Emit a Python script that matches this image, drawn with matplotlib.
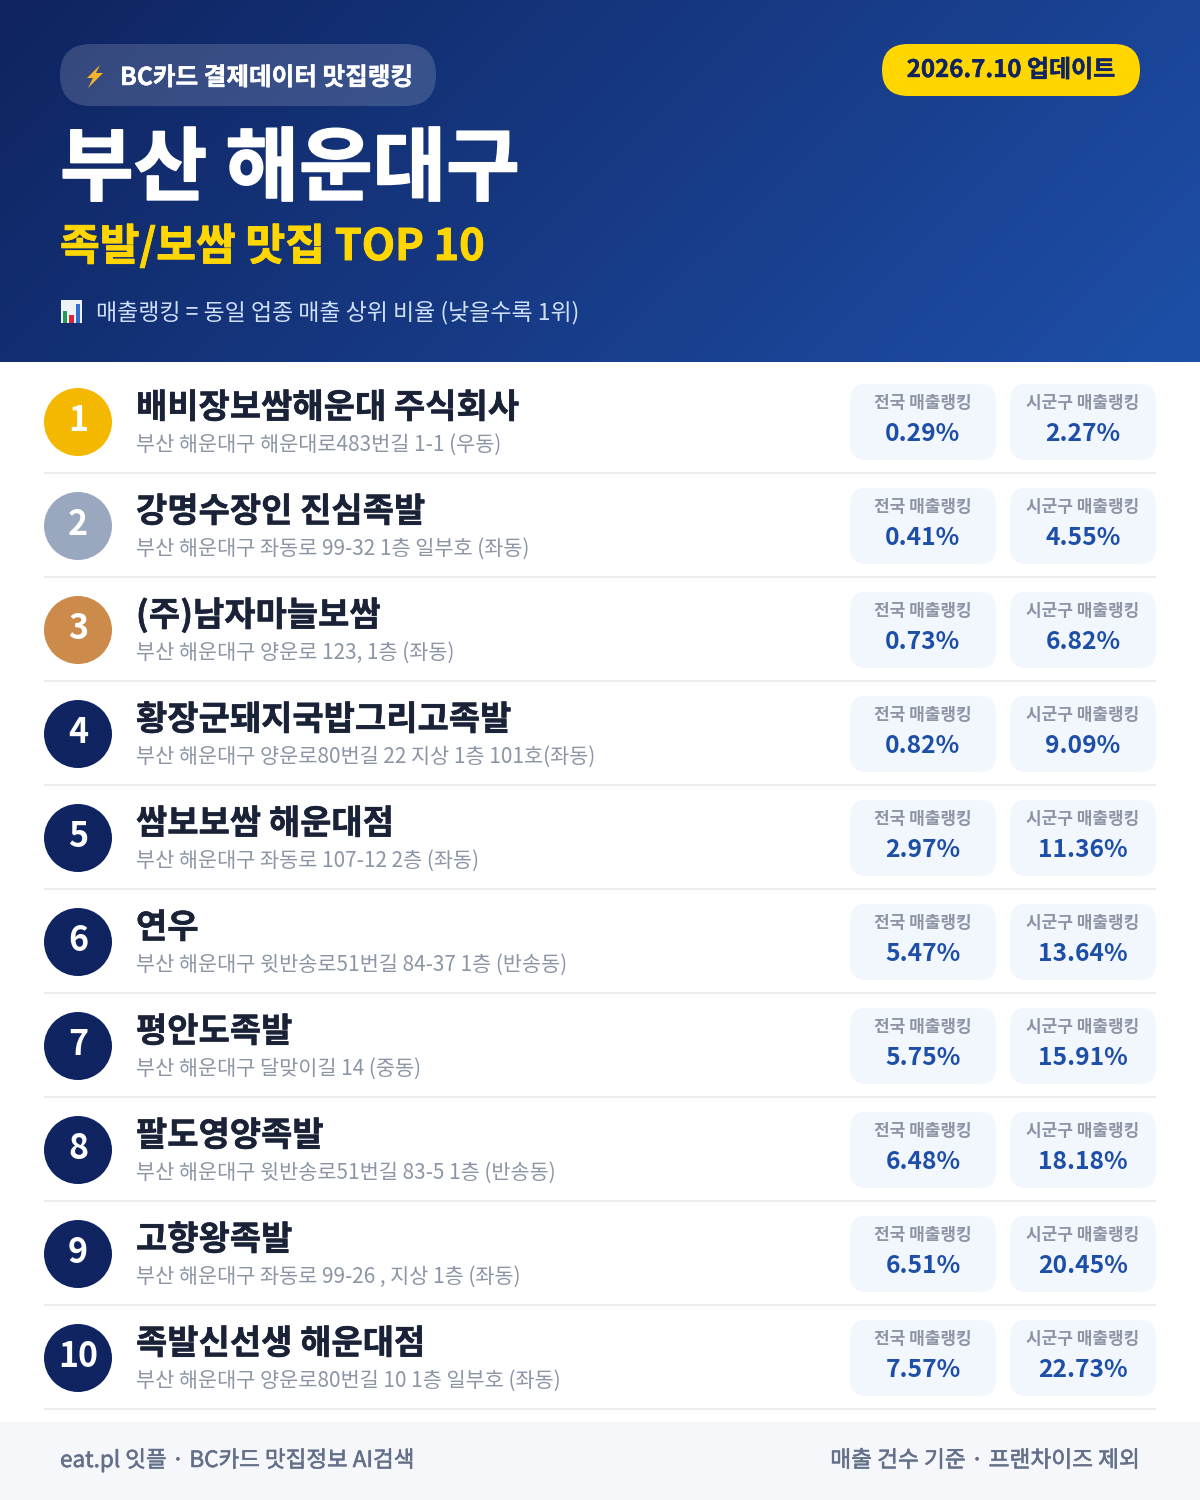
import numpy as np
import matplotlib
matplotlib.use("Agg")
import matplotlib.pyplot as plt
import matplotlib.patheffects as pe
from matplotlib.patches import Circle, FancyBboxPatch, Polygon, Rectangle

plt.rcParams['font.family'] = ['Noto Sans CJK KR', 'DejaVu Sans']

names = ["배비장보쌈해운대 주식회사", "강명수장인 진심족발", "(주)남자마늘보쌈", "황장군돼지국밥그리고족발",
         "쌈보보쌈 해운대점", "연우", "평안도족발", "팔도영양족발", "고향왕족발", "족발신선생 해운대점"]
addresses = ["부산 해운대구 해운대로483번길 1-1 (우동)", "부산 해운대구 좌동로 99-32 1층 일부호 (좌동)",
             "부산 해운대구 양운로 123, 1층 (좌동)", "부산 해운대구 양운로80번길 22 지상 1층 101호(좌동)",
             "부산 해운대구 좌동로 107-12 2층 (좌동)", "부산 해운대구 윗반송로51번길 84-37 1층 (반송동)",
             "부산 해운대구 달맞이길 14 (중동)", "부산 해운대구 윗반송로51번길 83-5 1층 (반송동)",
             "부산 해운대구 좌동로 99-26 , 지상 1층 (좌동)", "부산 해운대구 양운로80번길 10 1층 일부호 (좌동)"]
national_rank = [0.29, 0.41, 0.73, 0.82, 2.97, 5.47, 5.75, 6.48, 6.51, 7.57]
district_rank = [2.27, 4.55, 6.82, 9.09, 11.36, 13.64, 15.91, 18.18, 20.45, 22.73]
badge_colors = ["#f5b800", "#9aa8bf", "#cc8b4a"] + ["#0f2460"] * 7

NAVY = "#0f2460"
BLUE = "#1e4fa8"
YELLOW = "#ffd600"


def px(size):
    # css pixels to points at dpi 100
    return size * 0.72


def thicken(color, w=0.4):
    # no medium cut of the font here, fake it with a thin outline
    return [pe.withStroke(linewidth=w, foreground=color)]


fig = plt.figure(figsize=(12, 15), dpi=100, facecolor="white")
ax = fig.add_axes([0, 0, 1, 1])
ax.set_xlim(0, 1200)
ax.set_ylim(1500, 0)
ax.axis("off")

# header gradient, runs corner to corner
xx, yy = np.meshgrid(np.linspace(0, 1, 600), np.linspace(0, 1, 181))
t = (xx * 1200 + yy * 362) / (1200 + 362)
c0 = np.array(matplotlib.colors.to_rgb(NAVY))
c1 = np.array(matplotlib.colors.to_rgb(BLUE))
grad = c0[None, None, :] + (c1 - c0)[None, None, :] * t[:, :, None]
ax.imshow(grad, extent=[0, 1200, 362, 0], aspect="auto", zorder=0)
ax.set_xlim(0, 1200)
ax.set_ylim(1500, 0)


def rbox(x0, y0, x1, y1, r, **kw):
    ax.add_patch(FancyBboxPatch((x0, y0), x1 - x0, y1 - y0, boxstyle="round,pad=0,rounding_size=%s" % r,
                                linewidth=0, **kw))


# top pills
rbox(60, 44, 436, 106, 31, facecolor="white", alpha=0.16, zorder=1)
ax.add_patch(Polygon([(100, 65), (87, 78), (93, 78), (88, 88), (103, 73), (96, 73)],
                     facecolor="#f7b32b", edgecolor="none", zorder=2))
ax.text(120, 85, "BC카드 결제데이터 맛집랭킹", color="white", fontsize=px(24.6), fontweight="bold", zorder=2,
        path_effects=thicken("white", 0.3))
rbox(882, 44, 1140, 96, 26, facecolor=YELLOW, zorder=1)
ax.text(1011, 77, "2026.7.10 업데이트", color=NAVY, fontsize=px(24), fontweight="bold", ha="center", zorder=2,
        path_effects=thicken(NAVY, 0.3))

# titles
ax.text(60, 194, "부산 해운대구", color="white", fontsize=px(80), fontweight="bold", zorder=2,
        path_effects=thicken("white", 1.2))
ax.text(60, 260, "족발/보쌈 맛집 TOP 10", color=YELLOW, fontsize=px(43.2), fontweight="bold", zorder=2,
        path_effects=thicken(YELLOW, 0.7))

# bar chart icon
ax.add_patch(Rectangle((61, 300), 21, 23, facecolor="#eef2f7", edgecolor="none", zorder=2))
ax.add_patch(Rectangle((63, 311), 4, 12, facecolor="#1f9d55", edgecolor="none", zorder=3))
ax.add_patch(Rectangle((69, 315), 5, 8, facecolor="#d7263d", edgecolor="none", zorder=3))
ax.add_patch(Rectangle((76, 304), 4, 19, facecolor="#2f6fd0", edgecolor="none", zorder=3))
ax.text(96, 319, "매출랭킹 = 동일 업종 매출 상위 비율 (낮을수록 1위)", color="#cfe0fb", fontsize=px(23), zorder=2)

# list rows
for i in range(len(names)):
    dy = 104 * i
    ax.add_patch(Circle((78, 422 + dy), 34, facecolor=badge_colors[i], edgecolor="none", zorder=2))
    ax.text(78, 431 + dy, str(i + 1), color="white", fontsize=px(34), fontweight="bold", ha="center", zorder=3)
    ax.text(136, 418 + dy, names[i], color="#1a2238", fontsize=px(34), fontweight="bold", zorder=3,
            path_effects=thicken("#1a2238", 0.35))
    ax.text(136, 451 + dy, addresses[i], color="#8b95a5", fontsize=px(20.8), zorder=3)

    for x0, label, val in [(850, "전국 매출랭킹", national_rank[i]), (1010, "시군구 매출랭킹", district_rank[i])]:
        rbox(x0, 384 + dy, x0 + 146, 460 + dy, 16, facecolor="#f2f6fd", zorder=1)
        ax.text(x0 + 73, 407.5 + dy, label, color="#8b95a5", fontsize=px(17), fontweight="bold", ha="center", zorder=3)
        ax.text(x0 + 73, 441 + dy, "%.2f%%" % val, color=BLUE, fontsize=px(24.6), fontweight="bold", ha="center", zorder=3)

    ax.plot([44, 1156], [473 + dy, 473 + dy], color="#eceef1", linewidth=1.5, solid_capstyle="butt", zorder=1)

# footer
ax.add_patch(Rectangle((0, 1422), 1200, 78, facecolor="#f5f7fa", edgecolor="none", zorder=1))
ax.text(60, 1467, "eat.pl 잇플 · BC카드 맛집정보 AI검색", color="#64708a", fontsize=px(22.5), zorder=2,
        path_effects=thicken("#64708a"))
ax.text(1140, 1467, "매출 건수 기준 · 프랜차이즈 제외", color="#64708a", fontsize=px(22.7), ha="right", zorder=2,
        path_effects=thicken("#64708a"))

fig.savefig("out.png", dpi=100)
